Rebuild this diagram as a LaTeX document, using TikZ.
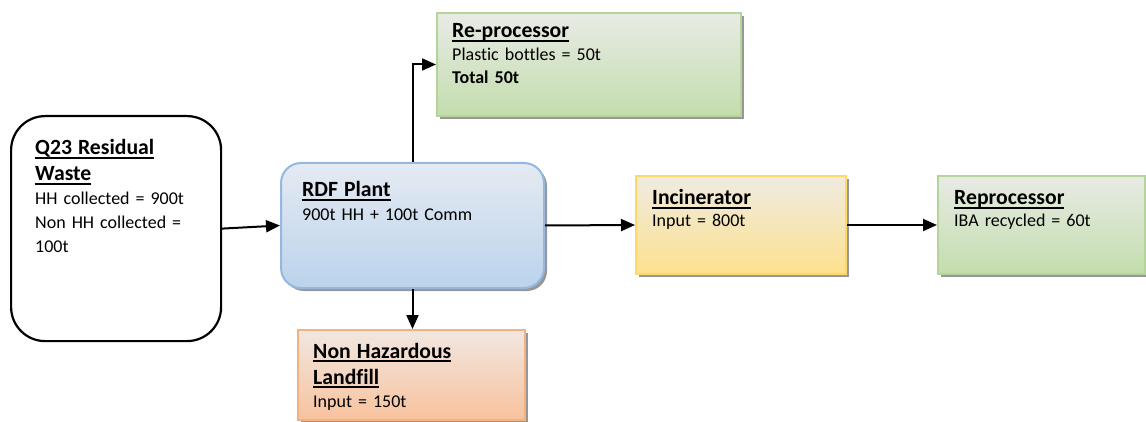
\documentclass[tikz,border=0pt]{standalone}
\usepackage{fontspec}
\setmainfont{Carlito}[Ligatures=NoCommon]
\usetikzlibrary{arrows.meta,shadows}
\newsavebox{\ttlbox}
\newcommand{\ttl}[1]{\leavevmode{\fontsize{21.7}{24}\selectfont\sbox{\ttlbox}{\bfseries #1}\rlap{\rule[-4pt]{\wd\ttlbox}{1.9pt}}\usebox{\ttlbox}}}
\definecolor{bluetop}{HTML}{E5EAF2}
\definecolor{bluebot}{HTML}{BBD3EC}
\definecolor{blueedge}{HTML}{95B8DF}
\definecolor{greentop}{HTML}{E8EBE5}
\definecolor{greenbot}{HTML}{C3DDAD}
\definecolor{greenedge}{HTML}{B4D49A}
\definecolor{orgtop}{HTML}{F1E7E1}
\definecolor{orgbot}{HTML}{F8C29D}
\definecolor{orgedge}{HTML}{F4B183}
\definecolor{yeltop}{HTML}{EFEBE1}
\definecolor{yelbot}{HTML}{FDE18E}
\definecolor{yeledge}{HTML}{FFD966}
\tikzset{
  box/.style={draw, line width=2pt, anchor=north west, inner sep=0pt,
    drop shadow={shadow xshift=3pt, shadow yshift=-3pt, fill=black!45, opacity=0.9}},
  bluebox/.style={box, rounded corners=20pt, draw=blueedge, top color=bluetop, bottom color=bluebot},
  greenbox/.style={box, draw=greenedge, top color=greentop, bottom color=greenbot},
  orgbox/.style={box, draw=orgedge, top color=orgtop, bottom color=orgbot},
  yelbox/.style={box, draw=yeledge, top color=yeltop, bottom color=yelbot},
  blackbox/.style={draw=black, line width=2.2pt, rounded corners=34pt, anchor=north west, inner sep=0pt, fill=white},
  txt/.style={anchor=base west, inner sep=0pt, text width=260pt, align=left,
    font=\fontsize{18}{24}\selectfont},
  conn/.style={line width=2pt, -{Triangle[length=14pt,width=12pt]}}
}
\begin{document}
\begin{tikzpicture}[x=1pt,y=-1pt]
\useasboundingbox (0,0) rectangle (1146,422);
% boxes
\node[blackbox, minimum width=210pt, minimum height=225pt] (q23) at (10,115) {};
\node[bluebox, minimum width=263pt, minimum height=125pt] (rdf) at (280,162) {};
\node[greenbox, minimum width=304pt, minimum height=103pt] (repro) at (436,12) {};
\node[orgbox, minimum width=227pt, minimum height=90pt] (land) at (297,329) {};
\node[yelbox, minimum width=210pt, minimum height=98pt] (inc) at (635,175) {};
\node[greenbox, minimum width=207pt, minimum height=98pt] (rep) at (937,175) {};
% texts
\node[txt] (q23t) at (35,155) {\ttl{Q23 Residual}\\[2pt]\ttl{Waste}\\HH collected = 900t\\Non HH collected =\\100t};
\node[txt] (rdft) at (302,197) {\ttl{RDF Plant}\\900t HH + 100t Comm};
\node[txt] (reprot) at (452,38) {\ttl{Re-processor}\\[-1pt]Plastic bottles = 50t\\[-1pt]\textbf{Total 50t}};
\node[txt] (landt) at (313,358) {\ttl{Non Hazardous}\\[2pt]\ttl{Landfill}\\[-1pt]Input = 150t};
\node[txt] (inct) at (652,205) {\ttl{Incinerator}\\[-2pt]Input = 800t};
\node[txt] (rept) at (954,205) {\ttl{Reprocessor}\\[-2pt]IBA recycled = 60t};
% connectors
\draw[conn] (q23.east) -- (rdf.west);
\draw[conn] (rdf.east) -- (inc.west);
\draw[conn] (inc.east) -- (rep.west);
\draw[conn] (rdf.south) -- (rdf.south |- land.north);
\draw[conn] (rdf.north) |- (repro.west);
\end{tikzpicture}
\end{document}
